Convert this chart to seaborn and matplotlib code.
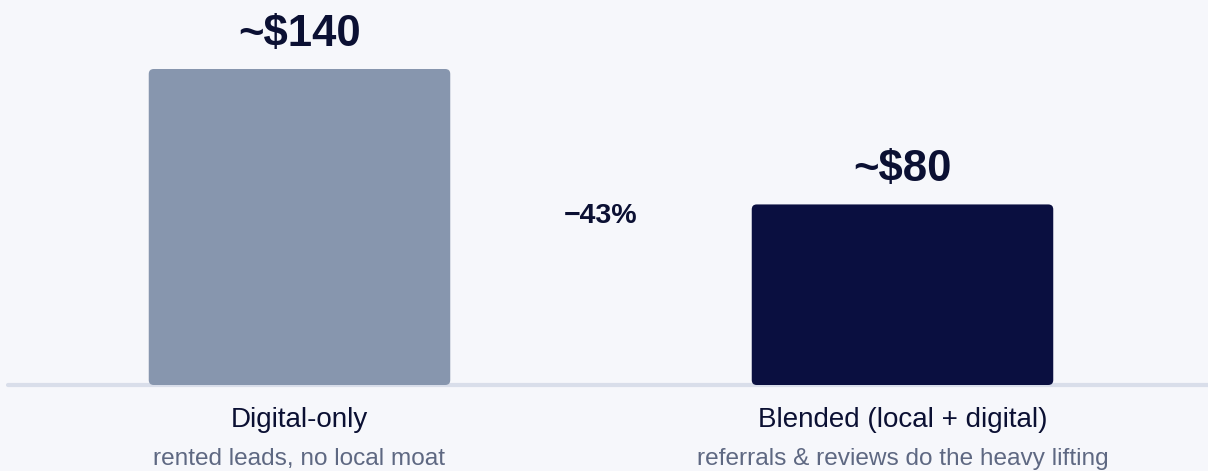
import matplotlib
matplotlib.use("Agg")
import matplotlib.pyplot as plt
import seaborn as sns
import pandas as pd
from matplotlib.patches import FancyBboxPatch

categories = ["Digital-only", "Blended (local + digital)"]
subtitles = ["rented leads, no local moat", "referrals & reviews do the heavy lifting"]
values = [140, 80]
value_labels = ["~$140", "~$80"]
delta_label = "\u221243%"

BG = "#f6f7fb"
bar_colors = ["#8796ae", "#0a0f40"]
TEXT = "#0b1033"
SUB = "#5e6882"
BASE = "#d9deea"

sns.set_theme(style="white")
plt.rcParams["font.family"] = ["Liberation Sans", "DejaVu Sans"]

W, H = 1208, 471
fig = plt.figure(figsize=(W / 100, H / 100), dpi=100, facecolor=BG)
base_px = 385
ax = fig.add_axes([8 / W, (H - base_px) / H, 1200 / W, base_px / H])
ax.set_facecolor(BG)

df = pd.DataFrame({"cat": categories, "val": values})
sns.barplot(data=df, x="cat", y="val", hue="cat", palette=bar_colors,
            width=0.5, ax=ax, legend=False, saturation=1)

x_unit = 603.0
y_unit = 316.0 / 140.0
ax.set_xlim(-291.5 / x_unit, -291.5 / x_unit + 1200 / x_unit)
ax.set_ylim(0, base_px / y_unit)

ax.axhline(0, color=BASE, lw=3, zorder=1, clip_on=False)

# replace bars with rounded ones
for p, c in zip(list(ax.patches), bar_colors):
    x, y = p.get_x(), p.get_y()
    w, h = p.get_width(), p.get_height()
    p.remove()
    r = 5 / x_unit
    fb = FancyBboxPatch((x, y), w, h,
                        boxstyle=f"round,pad=0,rounding_size={r}",
                        mutation_aspect=x_unit / y_unit,
                        facecolor=c, edgecolor="none", zorder=3)
    ax.add_patch(fb)

for i, (v, lab) in enumerate(zip(values, value_labels)):
    ax.annotate(lab, (i, v), xytext=(0, 35 * 0.72), textcoords="offset points",
                ha="center", va="center", fontsize=31.5, fontweight="bold",
                color=TEXT, zorder=5)

ax.annotate(delta_label, (0.5, values[1]), xytext=(0, -12 * 0.72),
            textcoords="offset points", ha="center", va="center",
            fontsize=20.5, fontweight="bold", color=TEXT)

for i, (cat, sub) in enumerate(zip(categories, subtitles)):
    ax.annotate(cat, (i, 0), xytext=(0, -35 * 0.72), textcoords="offset points",
                ha="center", va="center", fontsize=20, color=TEXT,
                annotation_clip=False)
    ax.annotate(sub, (i, 0), xytext=(0, -74.5 * 0.72), textcoords="offset points",
                ha="center", va="center", fontsize=17.6, color=SUB,
                annotation_clip=False)

ax.set_xticks([])
ax.set_yticks([])
ax.set_xlabel("")
ax.set_ylabel("")
sns.despine(ax=ax, left=True, bottom=True)

fig.savefig("out.png", dpi=100, facecolor=BG)
